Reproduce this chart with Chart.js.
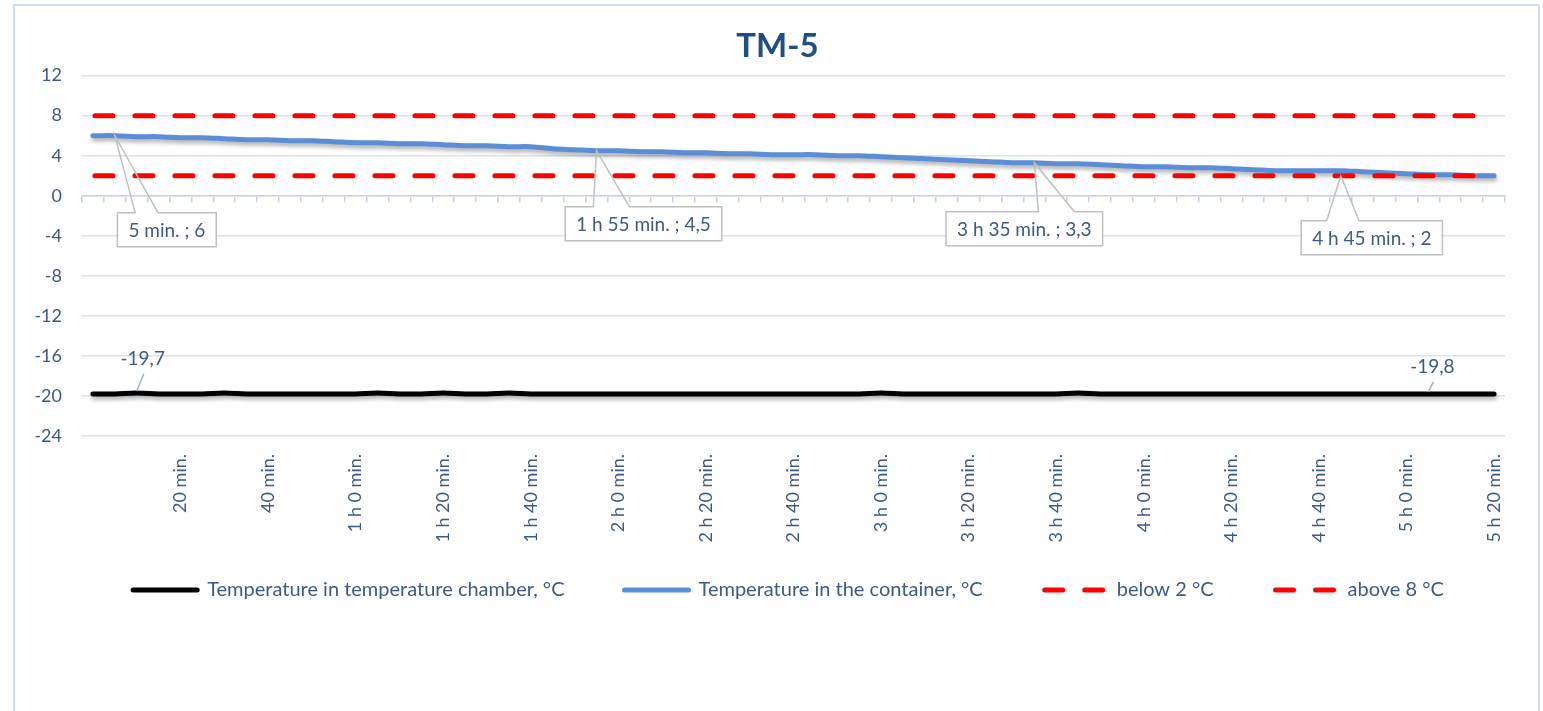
<!DOCTYPE html>
<html>
<head>
<meta charset="utf-8">
<script src="https://cdn.jsdelivr.net/npm/chart.js@4.4.1/dist/chart.umd.min.js"></script>
<style>
  html, body { margin: 0; padding: 0; background: #fff; }
  #wrap { width: 1543px; height: 711px; }
</style>
</head>
<body>
<div id="wrap"><canvas id="tmChart" width="1543" height="711"></canvas></div>
<script>
// categories: every 5 minutes from 0 to 5 h 20 min
const categorias = [
  '0 min.', '5 min.', '10 min.', '15 min.', '20 min.', '25 min.', '30 min.', '35 min.', '40 min.', '45 min.', '50 min.', '55 min.',
  '1 h 0 min.', '1 h 5 min.', '1 h 10 min.', '1 h 15 min.', '1 h 20 min.', '1 h 25 min.', '1 h 30 min.', '1 h 35 min.', '1 h 40 min.', '1 h 45 min.', '1 h 50 min.', '1 h 55 min.',
  '2 h 0 min.', '2 h 5 min.', '2 h 10 min.', '2 h 15 min.', '2 h 20 min.', '2 h 25 min.', '2 h 30 min.', '2 h 35 min.', '2 h 40 min.', '2 h 45 min.', '2 h 50 min.', '2 h 55 min.',
  '3 h 0 min.', '3 h 5 min.', '3 h 10 min.', '3 h 15 min.', '3 h 20 min.', '3 h 25 min.', '3 h 30 min.', '3 h 35 min.', '3 h 40 min.', '3 h 45 min.', '3 h 50 min.', '3 h 55 min.',
  '4 h 0 min.', '4 h 5 min.', '4 h 10 min.', '4 h 15 min.', '4 h 20 min.', '4 h 25 min.', '4 h 30 min.', '4 h 35 min.', '4 h 40 min.', '4 h 45 min.', '4 h 50 min.', '4 h 55 min.',
  '5 h 0 min.', '5 h 5 min.', '5 h 10 min.', '5 h 15 min.', '5 h 20 min.'
];

const tempCamara = [
  -19.8, -19.8, -19.7, -19.8, -19.8, -19.8, -19.7, -19.8, -19.8, -19.8,
  -19.8, -19.8, -19.8, -19.7, -19.8, -19.8, -19.7, -19.8, -19.8, -19.7,
  -19.8, -19.8, -19.8, -19.8, -19.8, -19.8, -19.8, -19.8, -19.8, -19.8,
  -19.8, -19.8, -19.8, -19.8, -19.8, -19.8, -19.7, -19.8, -19.8, -19.8,
  -19.8, -19.8, -19.8, -19.8, -19.8, -19.7, -19.8, -19.8, -19.8, -19.8,
  -19.8, -19.8, -19.8, -19.8, -19.8, -19.8, -19.8, -19.8, -19.8, -19.8,
  -19.8, -19.8, -19.8, -19.8, -19.8
];

const tempContentor = [
  6.0, 6.0, 5.9, 5.9, 5.8, 5.8, 5.7, 5.6, 5.6, 5.5,
  5.5, 5.4, 5.3, 5.3, 5.2, 5.2, 5.1, 5.0, 5.0, 4.9,
  4.9, 4.7, 4.6, 4.5, 4.5, 4.4, 4.4, 4.3, 4.3, 4.2,
  4.2, 4.1, 4.1, 4.1, 4.0, 4.0, 3.9, 3.8, 3.7, 3.6,
  3.5, 3.4, 3.3, 3.3, 3.2, 3.2, 3.1, 3.0, 2.9, 2.9,
  2.8, 2.8, 2.7, 2.6, 2.5, 2.5, 2.5, 2.5, 2.4, 2.3,
  2.2, 2.1, 2.1, 2.0, 2.0
];

const limiteInferior = [
  2, 2, 2, 2, 2, 2, 2, 2, 2, 2, 2, 2, 2, 2, 2, 2, 2, 2, 2, 2,
  2, 2, 2, 2, 2, 2, 2, 2, 2, 2, 2, 2, 2, 2, 2, 2, 2, 2, 2, 2,
  2, 2, 2, 2, 2, 2, 2, 2, 2, 2, 2, 2, 2, 2, 2, 2, 2, 2, 2, 2,
  2, 2, 2, 2, 2
];

const limiteSuperior = [
  8, 8, 8, 8, 8, 8, 8, 8, 8, 8, 8, 8, 8, 8, 8, 8, 8, 8, 8, 8,
  8, 8, 8, 8, 8, 8, 8, 8, 8, 8, 8, 8, 8, 8, 8, 8, 8, 8, 8, 8,
  8, 8, 8, 8, 8, 8, 8, 8, 8, 8, 8, 8, 8, 8, 8, 8, 8, 8, 8, 8,
  8, 8, 8, 8, 8
];

const nomesSeries = [
  'Temperature in temperature chamber, °C',
  'Temperature in the container, °C',
  'below 2 °C',
  'above 8 °C'
];

// data labels shown on the picture: [dataset, index]
const rotulos = [
  { ds: 1, idx: 1, caixa: true, dx: 52, dy: 94 },
  { ds: 1, idx: 23, caixa: true, dx: 47, dy: 73 },
  { ds: 1, idx: 43, caixa: true, dx: -10, dy: 66 },
  { ds: 2, idx: 57, caixa: true, dx: 31, dy: 62 },
  { ds: 0, idx: 2, caixa: false, dx: 6, dy: -34 },
  { ds: 0, idx: 61, caixa: false, dx: 4, dy: -27 }
];

const corTexto = '#3C5A89';
const corGrade = '#D9E2F2';
const FONTE = 'Lato';

Chart.defaults.font.family = FONTE;
Chart.defaults.color = corTexto;

const fmt = v => String(v).replace('.', ',');

// moldura do gráfico
const molduraPlugin = {
  id: 'moldura',
  beforeDraw(chart) {
    const c = chart.ctx;
    c.save();
    c.strokeStyle = '#CFDDF1';
    c.lineWidth = 2;
    c.strokeRect(14, 5, 1525, 760);
    c.restore();
  }
};

// ajusta título e legenda depois do layout
const ajustePlugin = {
  id: 'ajuste',
  afterLayout(chart) {
    const t = chart.titleBlock;
    t.left += 25; t.right += 25;
    const L = chart.legend;
    const h = L.bottom - L.top;
    L.top = 520; L.bottom = 520 + h;
    L.left += 36; L.right += 36;
  }
};

// sombra nas linhas (como no Excel)
const sombraPlugin = {
  id: 'sombra',
  beforeDatasetDraw(chart, args) {
    if (args.index > 1) return;
    const c = chart.ctx;
    c.save();
    c.shadowColor = 'rgba(0,0,0,0.32)';
    c.shadowBlur = 4;
    c.shadowOffsetX = 1;
    c.shadowOffsetY = 3;
  },
  afterDatasetDraw(chart, args) {
    if (args.index > 1) return;
    chart.ctx.restore();
  }
};

// rótulos de dados com caixas
const rotulosPlugin = {
  id: 'rotulos',
  afterDatasetsDraw(chart) {
    const c = chart.ctx;
    c.save();
    c.font = '19px ' + FONTE;
    c.textAlign = 'center';
    c.textBaseline = 'middle';
    rotulos.forEach(r => {
      const p = chart.getDatasetMeta(r.ds).data[r.idx];
      const valor = chart.data.datasets[r.ds].data[r.idx];
      const cx = p.x + r.dx, cy = p.y + r.dy;
      if (r.caixa) {
        const texto = chart.data.labels[r.idx] + ' ; ' + fmt(valor);
        const w = c.measureText(texto).width + 22, h = 34;
        const L = cx - w / 2, T = cy - h / 2, R = L + w, B = T + h;
        const f = p.x < cx ? [0.18, 0.41] : [0.59, 0.82];
        const b1 = L + w * f[0], b2 = L + w * f[1];
        c.fillStyle = '#fff';
        c.fillRect(L, T, w, h);
        c.beginPath();
        c.moveTo(b2, T); c.lineTo(R, T); c.lineTo(R, B); c.lineTo(L, B); c.lineTo(L, T); c.lineTo(b1, T);
        c.lineTo(p.x, p.y); c.lineTo(b2, T);
        c.strokeStyle = '#BFBFBF';
        c.lineWidth = 1.5;
        c.stroke();
        c.fillStyle = corTexto;
        c.fillText(texto, cx, cy + 1);
      } else {
        c.beginPath();
        c.moveTo(cx + 1, cy + 15);
        c.lineTo(p.x, p.y - 2);
        c.strokeStyle = '#9DB3D6';
        c.lineWidth = 1.5;
        c.stroke();
        c.fillStyle = corTexto;
        c.fillText(fmt(valor), cx, cy);
      }
    });
    c.restore();
  }
};

// legenda com o tracejado das séries
function gerarLegenda(chart) {
  const base = Chart.defaults.plugins.legend.labels.generateLabels(chart);
  return base.map(item => {
    const ds = chart.data.datasets[item.datasetIndex];
    item.lineDash = ds.borderDash || [];
    item.lineDashOffset = ds.borderDashOffset || 0;
    item.lineCap = ds.borderCapStyle || 'butt';
    item.lineWidth = ds.borderWidth;
    return item;
  });
}

const ctx = document.getElementById('tmChart').getContext('2d');
new Chart(ctx, {
  type: 'line',
  data: {
    labels: categorias,
    datasets: [
      { label: nomesSeries[0], data: tempCamara, borderColor: '#000000', backgroundColor: '#000000',
        borderWidth: 5, tension: 0.35, borderCapStyle: 'round', order: 3 },
      { label: nomesSeries[1], data: tempContentor, borderColor: '#5B8ED6', backgroundColor: '#5B8ED6',
        borderWidth: 5, tension: 0.35, borderCapStyle: 'round', order: 2 },
      { label: nomesSeries[2], data: limiteInferior, borderColor: '#FF0000', backgroundColor: '#FF0000',
        borderWidth: 5, borderDash: [18, 22], borderDashOffset: -2, borderCapStyle: 'round', order: 1 },
      { label: nomesSeries[3], data: limiteSuperior, borderColor: '#FF0000', backgroundColor: '#FF0000',
        borderWidth: 5, borderDash: [18, 22], borderDashOffset: -2, borderCapStyle: 'round', order: 0 }
    ]
  },
  options: {
    responsive: false,
    animation: false,
    devicePixelRatio: 1,
    elements: { point: { radius: 0, hoverRadius: 0 } },
    layout: { padding: { left: 0, right: 38, top: 0, bottom: 65 } },
    plugins: {
      tooltip: { enabled: false },
      title: {
        display: true, text: 'TM-5', color: '#1F4E85',
        font: { family: FONTE, size: 33, weight: 'bold' },
        padding: { top: 27, bottom: 9 }
      },
      legend: {
        position: 'bottom',
        labels: {
          usePointStyle: true, pointStyle: 'line', pointStyleWidth: 64,
          font: { family: FONTE, size: 20 }, color: corTexto, padding: 60,
          generateLabels: gerarLegenda,
          sort: (a, b) => a.datasetIndex - b.datasetIndex
        }
      }
    },
    scales: {
      x: {
        offset: true,
        grid: { display: false },
        border: { display: false },
        ticks: {
          autoSkip: false, minRotation: 90, maxRotation: 90, padding: 10,
          font: { family: FONTE, size: 18 }, color: corTexto,
          callback: (v, i) => (i > 0 && i % 4 === 0) ? categorias[i] : ''
        },
        afterFit: s => { s.height = 120; }
      },
      x2: {
        axis: 'x', type: 'category', position: { y: 0 }, offset: true,
        grid: { offset: true, drawOnChartArea: false, drawTicks: true, tickLength: 6, color: '#C5D3EA', lineWidth: 1.5 },
        border: { display: true, color: '#C5D3EA', width: 1.5 },
        ticks: { display: false }
      },
      y: {
        min: -24, max: 12,
        grid: { color: corGrade, lineWidth: 1.5, drawTicks: false },
        border: { display: false },
        ticks: {
          stepSize: 2, padding: 20,
          font: { family: FONTE, size: 18 }, color: corTexto,
          callback: v => (v % 4 === 0) ? v : ''
        },
        afterFit: s => { s.width = 82; }
      }
    }
  },
  plugins: [molduraPlugin, ajustePlugin, sombraPlugin, rotulosPlugin]
});
</script>
</body>
</html>
